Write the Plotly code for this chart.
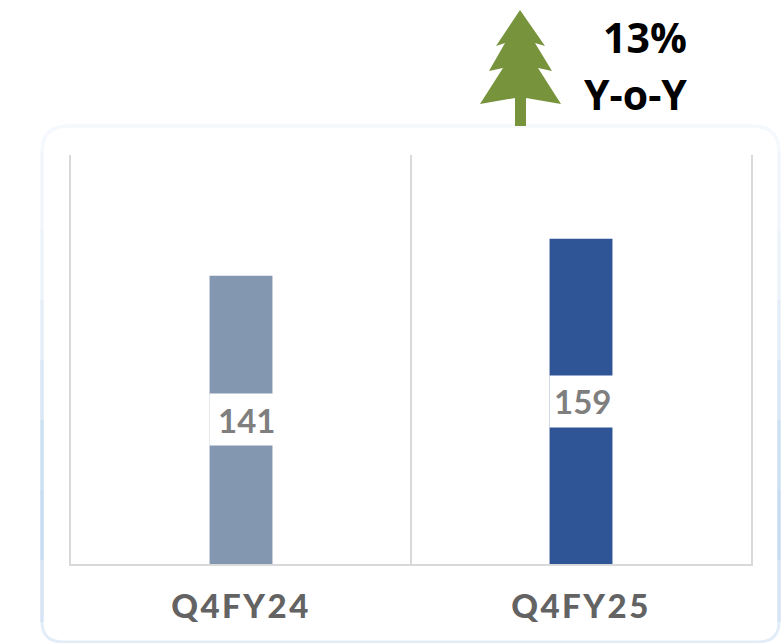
import plotly.graph_objects as go

categories = ["Q4FY24", "Q4FY25"]
values = [141, 159]
bar_colors = ["#8497B0", "#2F5597"]
growth_lines = ["13%", "Y-o-Y"]

W, H = 781, 643
L, R, T, B = 71, 751, 155, 564


def px(x):
    return (x - L) / (R - L)


def py(y):
    return (B - y) / (B - T)


def path(points, close=True):
    s = "M " + " L ".join(f"{px(x):.5f},{py(y):.5f}" for x, y in points)
    return s + (" Z" if close else "")


tree = [(520, 10), (545, 46), (535, 43), (552, 71), (538, 68), (561, 104), (526, 98),
        (526, 126), (515, 126), (515, 98), (480, 104), (503, 68), (489, 71), (505, 43), (496, 46)]

fig = go.Figure()
fig.add_trace(go.Bar(x=categories, y=values, marker=dict(color=bar_colors, line_width=0),
                     width=0.185, hoverinfo="skip"))

shapes = []
pale = "#F5F8FC"
# panel top edge with its two upper corners
shapes.append(dict(type="path", xref="paper", yref="paper", layer="below",
                   path=(f"M {px(42):.5f},{py(152):.5f} Q {px(42):.5f},{py(126):.5f} {px(68):.5f},{py(126):.5f} "
                         f"L {px(752):.5f},{py(126):.5f} Q {px(779):.5f},{py(126):.5f} {px(779):.5f},{py(152):.5f}"),
                   line=dict(color=pale, width=3.5)))
# panel sides: pale at the top, bluest low down, easing off towards the corners
side_steps = [(152, 230, "#F2F6FB"), (230, 300, "#EDF3FA"), (300, 360, "#E4EEF8"), (360, 420, "#D9E7F5"),
              (420, 490, "#CDE0F2"), (490, 560, "#C8DCF1"), (560, 622, "#D6E5F5")]
for xs in (42, 779):
    for y0, y1, c in side_steps:
        shapes.append(dict(type="line", xref="paper", yref="paper", layer="below",
                           x0=px(xs), x1=px(xs), y0=py(y0), y1=py(y1), line=dict(color=c, width=3.5)))
# panel bottom edge with its two lower corners
shapes.append(dict(type="path", xref="paper", yref="paper", layer="below",
                   path=(f"M {px(42):.5f},{py(622):.5f} Q {px(42):.5f},{py(642):.5f} {px(64):.5f},{py(642):.5f} "
                         f"L {px(757):.5f},{py(642):.5f} Q {px(779):.5f},{py(642):.5f} {px(779):.5f},{py(622):.5f}"),
                   line=dict(color="#E3EDF8", width=3)))
# centre divider
shapes.append(dict(type="line", xref="paper", yref="paper", x0=0.5, x1=0.5, y0=0, y1=1,
                   layer="below", line=dict(color="#D9D9D9", width=2)))
# growth tree
shapes.append(dict(type="path", xref="paper", yref="paper", path=path(tree),
                   fillcolor="#77933C", line=dict(width=0)))

annotations = []
for c, v, shift in zip(categories, values, [5, 1]):
    annotations.append(dict(x=c, y=v / 2, xref="x", yref="y", text=" ", showarrow=False,
                            width=63, height=51, bgcolor="#FFFFFF", borderpad=0, xanchor="center", yanchor="middle",
                            font=dict(family="Lato", size=33)))
    annotations.append(dict(x=c, y=v / 2, xref="x", yref="y", text=f"<b>{v}</b>", showarrow=False, xshift=shift,
                            xanchor="center", yanchor="middle",
                            font=dict(family="Lato", size=33, color="#7F7F7F")))
for line, yp in zip(growth_lines, [37, 94]):
    annotations.append(dict(x=px(689), y=py(yp), xref="paper", yref="paper", text=f"<b>{line}</b>",
                            showarrow=False, xanchor="right", yanchor="middle",
                            font=dict(family="Open Sans", size=41, color="#000000")))

fig.update_layout(
    width=W, height=H, autosize=False,
    margin=dict(l=L, r=W - R, t=T, b=H - B),
    paper_bgcolor="#FFFFFF", plot_bgcolor="#FFFFFF",
    showlegend=False, shapes=shapes, annotations=annotations,
    xaxis=dict(type="category", range=[-0.5, 1.5], showgrid=False, ticks="", showline=True,
               linecolor="#D9D9D9", linewidth=2, zeroline=False, ticklabelstandoff=12,
               tickfont=dict(family="Lato", size=33, color="#636363", weight=900)),
    yaxis=dict(range=[0, 200], showgrid=False, showticklabels=False, ticks="", showline=True, mirror=True,
               linecolor="#D9D9D9", linewidth=2, zeroline=False),
)
fig.write_html("out.html", config=dict(displayModeBar=False),
               post_script="document.body.style.margin='0';document.body.style.overflow='hidden';"
                           "document.querySelectorAll('.xtick text').forEach(t=>t.style.letterSpacing='2.5px');")
